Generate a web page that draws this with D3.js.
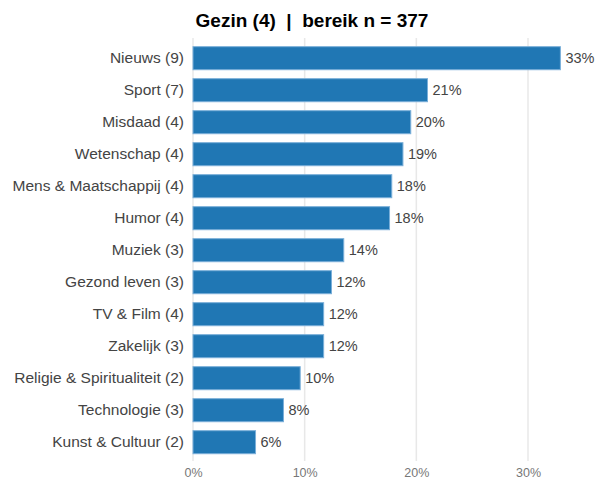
<!DOCTYPE html>
<html>
<head>
<meta charset="utf-8">
<script src="https://cdn.jsdelivr.net/npm/d3@7"></script>
<style>
  body { margin: 0; background: #fff; }
  svg text { font-family: "Liberation Sans", Arial, sans-serif; }
</style>
</head>
<body>
<div id="chart"></div>
<script>
// categories and values
var categories = ["Nieuws (9)", "Sport (7)", "Misdaad (4)", "Wetenschap (4)", "Mens & Maatschappij (4)",
  "Humor (4)", "Muziek (3)", "Gezond leven (3)", "TV & Film (4)", "Zakelijk (3)",
  "Religie & Spiritualiteit (2)", "Technologie (3)", "Kunst & Cultuur (2)"];
var values = [0.329, 0.210, 0.195, 0.188, 0.178, 0.176, 0.135, 0.124, 0.117, 0.117, 0.096, 0.081, 0.056];
var ticks = [0, 0.1, 0.2, 0.3];
var title = "Gezin (4)  |  bereik n = 377";

var W = 597, H = 482;
var margin = {top: 38, right: 40, bottom: 20, left: 193};

var svg = d3.select("#chart").append("svg")
  .attr("width", W)
  .attr("height", H);

// x scale: 10% = ~111.7px
var x = d3.scaleLinear()
  .domain([0, 0.3])
  .range([margin.left, margin.left + 335]);

var y = d3.scaleBand()
  .domain(categories)
  .range([46.7 - 4.5, 46.7 - 4.5 + 32 * 13])
  .paddingInner(0.28)
  .paddingOuter(0.14);

// gridlines
svg.append("g")
  .selectAll("line")
  .data(ticks)
  .enter()
  .append("line")
  .attr("x1", function (d) { return x(d); })
  .attr("x2", function (d) { return x(d); })
  .attr("y1", margin.top)
  .attr("y2", 461)
  .attr("stroke", "#e8e8e8")
  .attr("stroke-width", 1.5);

// tick labels via axis
var xAxis = svg.append("g")
  .attr("transform", "translate(0,465)")
  .call(d3.axisBottom(x).tickValues(ticks).tickFormat(d3.format(".0%")).tickSize(0));
xAxis.select(".domain").remove();
xAxis.selectAll("text")
  .attr("fill", "#777")
  .style("font-size", "12.5px");

// bars
svg.append("g")
  .selectAll("rect")
  .data(values)
  .enter()
  .append("rect")
  .attr("x", x(0))
  .attr("y", function (d, i) { return y(categories[i]); })
  .attr("width", function (d) { return x(d) - x(0); })
  .attr("height", y.bandwidth())
  .attr("fill", "#2077b4")
  .attr("stroke", "#7aafd9")
  .attr("stroke-width", 1);

// value labels
svg.append("g")
  .selectAll("text")
  .data(values)
  .enter()
  .append("text")
  .attr("x", function (d) { return x(d) + 5; })
  .attr("y", function (d, i) { return y(categories[i]) + y.bandwidth() / 2; })
  .attr("dy", "0.35em")
  .attr("fill", "#444")
  .style("font-size", "14.5px")
  .text(function (d) { return Math.round(d * 100) + "%"; });

// category labels
var yAxis = svg.append("g")
  .attr("transform", "translate(" + (margin.left - 9) + ",0)")
  .call(d3.axisLeft(y).tickSize(0).tickPadding(0));
yAxis.select(".domain").remove();
yAxis.selectAll("text")
  .attr("fill", "#444")
  .style("font-size", "15.5px");

// title
svg.append("text")
  .attr("x", 312)
  .attr("y", 27)
  .attr("text-anchor", "middle")
  .attr("fill", "#000")
  .style("font-size", "19px")
  .style("font-weight", "bold")
  .style("white-space", "pre")
  .text(title);
</script>
</body>
</html>
